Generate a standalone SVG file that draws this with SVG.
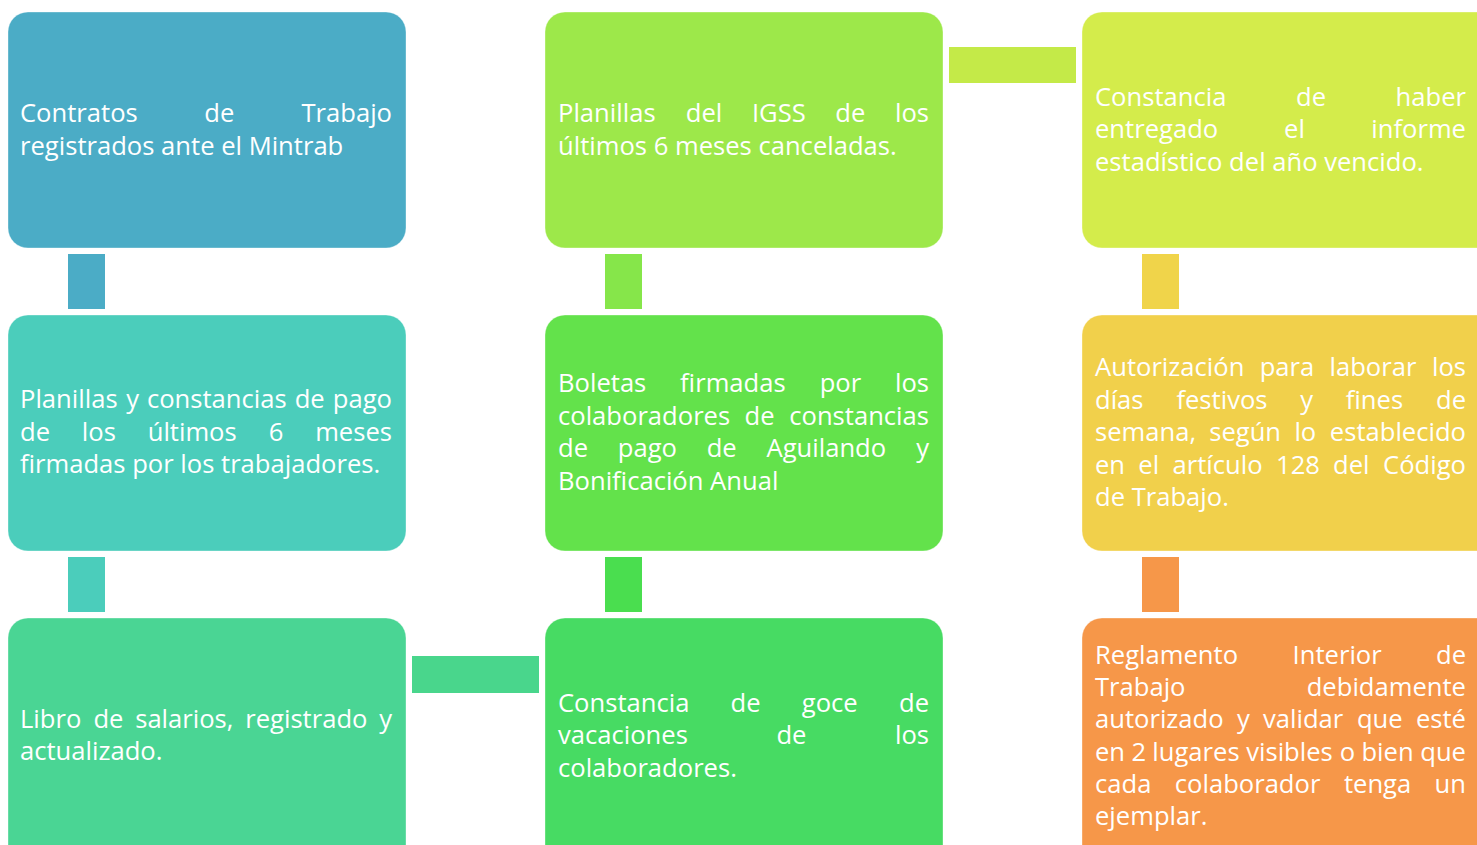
<svg xmlns="http://www.w3.org/2000/svg" width="1477" height="845" viewBox="0 0 1477 845">
<style>
.box{stroke:#ffffff;stroke-opacity:0.35;stroke-width:1}
text{font-family:"Open Sans","Liberation Sans",sans-serif;font-size:25.6px;fill:#ffffff}
.e{text-anchor:end}
</style>
<rect width="1477" height="845" fill="#ffffff"/>
<g id="connectors">
<rect x="68" y="254" width="37" height="55" fill="#4BACC6"/>
<rect x="68" y="557" width="37" height="55" fill="#4BCDBB"/>
<rect x="412" y="656" width="127" height="37" fill="#49D68C"/>
<rect x="605" y="254" width="37" height="55" fill="#86E64A"/>
<rect x="605" y="557" width="37" height="55" fill="#4ADE4F"/>
<rect x="949" y="47" width="127" height="36" fill="#C4EA48"/>
<rect x="1142" y="254" width="37" height="55" fill="#F0D44A"/>
<rect x="1142" y="557" width="37" height="55" fill="#F69749"/>
</g>
<g id="n1">
<rect class="box" x="8" y="12" width="398" height="236" rx="20" fill="#4BACC6"/>
<text y="122"><tspan x="20">Contratos</tspan><tspan x="204.3">de</tspan></text><text class="e" x="392" y="122">Trabajo</text>
<text x="20" y="155">registrados ante el Mintrab</text>
</g>
<g id="n2">
<rect class="box" x="545" y="12" width="398" height="236" rx="20" fill="#9DE84A"/>
<text y="122"><tspan x="558">Planillas</tspan><tspan x="685.8">del</tspan><tspan x="751.9">IGSS</tspan><tspan x="835.3">de</tspan></text><text class="e" x="929" y="122">los</text>
<text x="558" y="155">últimos 6 meses canceladas.</text>
</g>
<g id="n3">
<rect class="box" x="1082" y="12" width="420" height="236" rx="20" fill="#D4EC4B"/>
<text y="106"><tspan x="1095">Constancia</tspan><tspan x="1296">de</tspan></text><text class="e" x="1466" y="106">haber</text>
<text y="138"><tspan x="1095">entregado</tspan><tspan x="1284.1">el</tspan></text><text class="e" x="1466" y="138">informe</text>
<text x="1095" y="171">estadístico del año vencido.</text>
</g>
<g id="n4">
<rect class="box" x="8" y="315" width="398" height="236" rx="20" fill="#4BCDBB"/>
<text y="408"><tspan x="20">Planillas</tspan><tspan x="126.2">y</tspan><tspan x="146.9">constancias</tspan><tspan x="294.7">de</tspan></text><text class="e" x="392" y="408">pago</text>
<text y="441"><tspan x="20">de</tspan><tspan x="81.8">los</tspan><tspan x="147.7">últimos</tspan><tspan x="268.8">6</tspan></text><text class="e" x="392" y="441">meses</text>
<text x="20" y="473">firmadas por los trabajadores.</text>
</g>
<g id="n5">
<rect class="box" x="545" y="315" width="398" height="236" rx="20" fill="#63E24B"/>
<text y="392"><tspan x="558">Boletas</tspan><tspan x="680.1">firmadas</tspan><tspan x="819.7">por</tspan></text><text class="e" x="929" y="392">los</text>
<text y="425"><tspan x="558">colaboradores</tspan><tspan x="744.6">de</tspan></text><text class="e" x="929" y="425">constancias</text>
<text y="457"><tspan x="558">de</tspan><tspan x="617.8">pago</tspan><tspan x="706.7">de</tspan><tspan x="766.5">Aguilando</tspan></text><text class="e" x="929" y="457">y</text>
<text x="558" y="490">Bonificación Anual</text>
</g>
<g id="n6">
<rect class="box" x="1082" y="315" width="420" height="236" rx="20" fill="#F1D04B"/>
<text y="376"><tspan x="1095">Autorización</tspan><tspan x="1259.7">para</tspan><tspan x="1329.5">laborar</tspan></text><text class="e" x="1466" y="376">los</text>
<text y="409"><tspan x="1095">días</tspan><tspan x="1176.4">festivos</tspan><tspan x="1300.3">y</tspan><tspan x="1345.8">fines</tspan></text><text class="e" x="1466" y="409">de</text>
<text y="441"><tspan x="1095">semana,</tspan><tspan x="1209.2">según</tspan><tspan x="1294.4">lo</tspan></text><text class="e" x="1466" y="441">establecido</text>
<text y="474"><tspan x="1095">en</tspan><tspan x="1138.3">el</tspan><tspan x="1172.5">artículo</tspan><tspan x="1276">128</tspan><tspan x="1333.1">del</tspan></text><text class="e" x="1466" y="474">Código</text>
<text x="1095" y="506">de Trabajo.</text>
</g>
<g id="n7">
<rect class="box" x="8" y="618" width="398" height="250" rx="20" fill="#4AD594"/>
<text y="728"><tspan x="20">Libro</tspan><tspan x="93.4">de</tspan><tspan x="135.2">salarios,</tspan><tspan x="245.2">registrado</tspan></text><text class="e" x="392" y="728">y</text>
<text x="20" y="760">actualizado.</text>
</g>
<g id="n8">
<rect class="box" x="545" y="618" width="398" height="250" rx="20" fill="#47DB63"/>
<text y="712"><tspan x="558">Constancia</tspan><tspan x="730.6">de</tspan><tspan x="801.8">goce</tspan></text><text class="e" x="929" y="712">de</text>
<text y="744"><tspan x="558">vacaciones</tspan><tspan x="776.4">de</tspan></text><text class="e" x="929" y="744">los</text>
<text x="558" y="777">colaboradores.</text>
</g>
<g id="n9">
<rect class="box" x="1082" y="618" width="420" height="250" rx="20" fill="#F69749"/>
<text y="664"><tspan x="1095">Reglamento</tspan><tspan x="1292.6">Interior</tspan></text><text class="e" x="1466" y="664">de</text>
<text x="1095" y="696">Trabajo</text><text class="e" x="1466" y="696">debidamente</text>
<text y="728"><tspan x="1095">autorizado</tspan><tspan x="1236.9">y</tspan><tspan x="1263">validar</tspan><tspan x="1356.9">que</tspan></text><text class="e" x="1466" y="728">esté</text>
<text y="761"><tspan x="1095">en</tspan><tspan x="1131.4">2</tspan><tspan x="1152.3">lugares</tspan><tspan x="1246.2">visibles</tspan><tspan x="1339.7">o</tspan><tspan x="1361.4">bien</tspan></text><text class="e" x="1466" y="761">que</text>
<text y="793"><tspan x="1095">cada</tspan><tspan x="1174.8">colaborador</tspan><tspan x="1343.9">tenga</tspan></text><text class="e" x="1466" y="793">un</text>
<text x="1095" y="825">ejemplar.</text>
</g>
</svg>
